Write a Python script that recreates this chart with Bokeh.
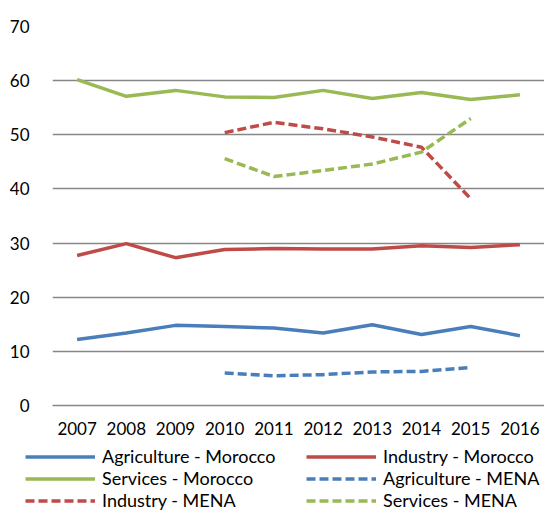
from bokeh.plotting import figure
from bokeh.layouts import column
from bokeh.models import Range1d, FactorRange, Legend, LegendItem, FixedTicker
from bokeh.embed import file_html
from bokeh.resources import INLINE

years = ["2007", "2008", "2009", "2010", "2011", "2012", "2013", "2014", "2015", "2016"]
years_mena = ["2010", "2011", "2012", "2013", "2014", "2015"]

agri_morocco = [12.2, 13.4, 14.8, 14.6, 14.3, 13.4, 14.9, 13.1, 14.6, 12.9]
indu_morocco = [27.7, 29.9, 27.3, 28.8, 29.0, 28.9, 28.9, 29.5, 29.2, 29.7]
serv_morocco = [60.2, 57.1, 58.2, 57.0, 56.9, 58.2, 56.7, 57.8, 56.5, 57.4]
agri_mena = [6.0, 5.5, 5.7, 6.2, 6.3, 7.0]
indu_mena = [50.4, 52.3, 51.1, 49.6, 47.7, 38.2]
serv_mena = [45.6, 42.3, 43.4, 44.6, 46.8, 53.0]

labels = ["Agriculture - Morocco", "Industry - Morocco", "Services - Morocco",
          "Agriculture - MENA", "Industry - MENA", "Services - MENA"]

y_ticks = [0, 10, 20, 30, 40, 50, 60, 70]

BLUE = "#4A7EBB"
RED = "#BE4B48"
GREEN = "#98B954"
FONT = "Lato"
FS = "17px"
LFS = "18px"
W = 3.5
DASH = "9 4"

styles = [
    dict(line_color=BLUE, line_width=W),
    dict(line_color=RED, line_width=W),
    dict(line_color=GREEN, line_width=W),
    dict(line_color=BLUE, line_width=W, line_dash=DASH),
    dict(line_color=RED, line_width=W, line_dash=DASH),
    dict(line_color=GREEN, line_width=W, line_dash=DASH),
]

# ---- main chart ----
p = figure(width=544, height=445, output_backend="svg", toolbar_location=None,
           x_range=FactorRange(*years, range_padding=0), y_range=Range1d(0, 70),
           min_border_left=52, min_border_right=0, min_border_top=26, min_border_bottom=40)
p.outline_line_color = None
p.frame_align = False

p.xgrid.grid_line_color = None
p.ygrid.grid_line_color = "#878787"
p.ygrid.grid_line_width = 1.5
p.yaxis.ticker = FixedTicker(ticks=y_ticks)

p.yaxis.axis_line_color = None
p.yaxis.major_tick_line_color = None
p.yaxis.minor_tick_line_color = None
p.yaxis.major_label_standoff = 17
p.xaxis.axis_line_color = "#878787"
p.xaxis.axis_line_width = 1.5
p.xaxis.major_tick_line_color = None
p.xaxis.minor_tick_line_color = None
p.xaxis.major_label_standoff = 10
for ax in (p.xaxis, p.yaxis):
    ax.major_label_text_font = FONT
    ax.major_label_text_font_size = FS
    ax.major_label_text_color = "#000000"

series = [
    (years, agri_morocco), (years, indu_morocco), (years, serv_morocco),
    (years_mena, agri_mena), (years_mena, indu_mena), (years_mena, serv_mena),
]
for (xs, ys), st in zip(series, styles):
    p.line(xs, ys, **st)

# ---- legend strip (legend-only figure; its line renderers sit outside its visible range) ----
q = figure(width=544, height=66, output_backend="svg", toolbar_location=None,
           x_axis_type=None, y_axis_type=None, x_range=Range1d(0, 1), y_range=Range1d(0, 1),
           min_border_left=0, min_border_right=0, min_border_top=0, min_border_bottom=0)
q.outline_line_color = None
q.grid.grid_line_color = None
q.frame_align = False

items = []
for lab, st in zip(labels, styles):
    r = q.line([5, 6], [5, 6], **st)
    items.append(LegendItem(label=lab, renderers=[r]))

legend = Legend(items=items, location=(25, 0), orientation="horizontal", ncols=2,
                glyph_width=70, glyph_height=21, label_height=21, label_width=204,
                label_standoff=7, spacing=0, padding=0, margin=0,
                border_line_color=None, background_fill_alpha=0,
                label_text_font=FONT, label_text_font_size=LFS, label_text_color="#000000")
q.add_layout(legend, "center")

layout = column(p, q, spacing=0)
open("out.html", "w").write(file_html(layout, INLINE))
